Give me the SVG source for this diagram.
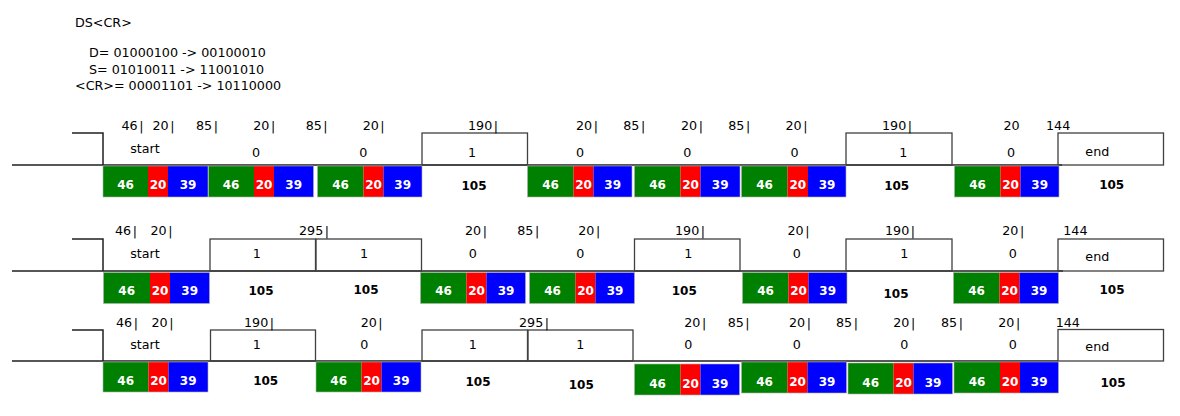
<svg xmlns="http://www.w3.org/2000/svg" width="1180" height="416" viewBox="0 0 1180 416">
<style>
text{font-family:"DejaVu Sans",Verdana,sans-serif}
.t{font-size:12.7px;fill:#000}
.m{font-size:12.7px;fill:#000;text-anchor:middle}
.w{font-size:12px;font-weight:bold;fill:#fff;text-anchor:middle}
.k{font-size:12px;font-weight:bold;fill:#000;text-anchor:middle}
.g{fill:#008000}.r{fill:#ff0000}.b{fill:#0000ff}
.o{fill:none;stroke:#b0b0b0;stroke-width:0.6}
.box{fill:none;stroke:#404040;stroke-width:1.3}
.wave{fill:none;stroke:#202020;stroke-width:1.5}
</style>
<rect width="1180" height="416" fill="#fff"/>
<g id="header">
<text class="t" x="75" y="27">DS&lt;CR&gt;</text>
<text class="t" x="89" y="57">D= 01000100 -&gt; 00100010</text>
<text class="t" x="89" y="73.5">S= 01010011 -&gt; 11001010</text>
<text class="t" x="75" y="90">&lt;CR&gt;= 00001101 -&gt; 10110000</text>
</g>
<g id="connectors">
<path class="wave" d="M12,165H1062M72,133H103V165"/>
<rect class="box" x="422" y="133" width="105.5" height="32"/>
<rect class="box" x="846" y="133" width="106" height="32"/>
<rect class="box" x="1058" y="133" width="105.5" height="32"/>
<path class="wave" d="M12,271H1063M72,239H103V271"/>
<rect class="box" x="210" y="239" width="105.5" height="32"/>
<rect class="box" x="316" y="239" width="105.5" height="32"/>
<rect class="box" x="634.5" y="239" width="105.5" height="32"/>
<rect class="box" x="846" y="239" width="106" height="32"/>
<rect class="box" x="1058" y="239" width="105.5" height="32"/>
<path class="wave" d="M12,361H1058M72,330H103V361"/>
<rect class="box" x="210.5" y="330" width="105" height="31"/>
<rect class="box" x="422" y="330" width="105.5" height="31"/>
<rect class="box" x="528" y="330" width="105" height="31"/>
<rect class="box" x="1058" y="329.5" width="105.5" height="31.5"/>
</g>
<g id="row1-labels">
<text class="t" y="130"><tspan x="121.5">46<tspan dx="1.5">|</tspan></tspan><tspan x="152.5">20<tspan dx="1.5">|</tspan></tspan><tspan x="196">85<tspan dx="1.5">|</tspan></tspan><tspan x="253.3">20<tspan dx="1.5">|</tspan></tspan><tspan x="305.7">85<tspan dx="1.5">|</tspan></tspan><tspan x="362.7">20<tspan dx="1.5">|</tspan></tspan><tspan x="468">190<tspan dx="1.5">|</tspan></tspan><tspan x="576">20<tspan dx="1.5">|</tspan></tspan><tspan x="623.3">85<tspan dx="1.5">|</tspan></tspan><tspan x="681">20<tspan dx="1.5">|</tspan></tspan><tspan x="728.3">85<tspan dx="1.5">|</tspan></tspan><tspan x="785.5">20<tspan dx="1.5">|</tspan></tspan><tspan x="882">190<tspan dx="1.5">|</tspan></tspan><tspan x="1003.5">20</tspan><tspan x="1046">144</tspan></text>
</g>
<g id="row1-cell1"><text class="m" x="145" y="153">start</text>
<rect class="g" x="103" y="166" width="45" height="31"/><rect class="r" x="148" y="166" width="20" height="31"/><rect class="b" x="168" y="166" width="40" height="31"/><rect class="o" x="103" y="166" width="105" height="31"/>
<text class="w" x="125.5" y="189">46</text><text class="w" x="158" y="189">20</text><text class="w" x="188" y="189">39</text></g>
<g id="row1-cell2"><text class="m" x="256" y="156.5">0</text>
<rect class="g" x="208.5" y="166" width="45.5" height="31"/><rect class="r" x="254" y="166" width="20" height="31"/><rect class="b" x="274" y="166" width="39.5" height="31"/><rect class="o" x="208.5" y="166" width="105" height="31"/>
<text class="w" x="231" y="189">46</text><text class="w" x="264" y="189">20</text><text class="w" x="293.7" y="189">39</text></g>
<g id="row1-cell3"><text class="m" x="363.3" y="156.5">0</text>
<rect class="g" x="317.5" y="166" width="46" height="31"/><rect class="r" x="363.5" y="166" width="20" height="31"/><rect class="b" x="383.5" y="166" width="38.5" height="31"/><rect class="o" x="317.5" y="166" width="104.5" height="31"/>
<text class="w" x="340.5" y="189">46</text><text class="w" x="373.5" y="189">20</text><text class="w" x="402.7" y="189">39</text></g>
<g id="row1-cell4"><text class="m" x="472" y="156.5">1</text><text class="k" x="474" y="189.5">105</text></g>
<g id="row1-cell5"><text class="m" x="580" y="156.5">0</text>
<rect class="g" x="527.5" y="166" width="46" height="31"/><rect class="r" x="573.5" y="166" width="20" height="31"/><rect class="b" x="593.5" y="166" width="38.5" height="31"/><rect class="o" x="527.5" y="166" width="104.5" height="31"/>
<text class="w" x="550.5" y="189">46</text><text class="w" x="583.5" y="189">20</text><text class="w" x="612.7" y="189">39</text></g>
<g id="row1-cell6"><text class="m" x="687.3" y="156.5">0</text>
<rect class="g" x="634.5" y="166" width="46" height="31"/><rect class="r" x="680.5" y="166" width="20" height="31"/><rect class="b" x="700.5" y="166" width="39.5" height="31"/><rect class="o" x="634.5" y="166" width="105.5" height="31"/>
<text class="w" x="657.5" y="189">46</text><text class="w" x="690.5" y="189">20</text><text class="w" x="720.2" y="189">39</text></g>
<g id="row1-cell7"><text class="m" x="794.5" y="156.5">0</text>
<rect class="g" x="741.5" y="166" width="46" height="31"/><rect class="r" x="787.5" y="166" width="20.5" height="31"/><rect class="b" x="808" y="166" width="38" height="31"/><rect class="o" x="741.5" y="166" width="104.5" height="31"/>
<text class="w" x="764.5" y="189">46</text><text class="w" x="797.8" y="189">20</text><text class="w" x="827" y="189">39</text></g>
<g id="row1-cell8"><text class="m" x="903.3" y="156.5">1</text><text class="k" x="896.7" y="189.5">105</text></g>
<g id="row1-cell9"><text class="m" x="1011" y="156.5">0</text>
<rect class="g" x="954.5" y="166" width="46" height="31"/><rect class="r" x="1000.5" y="166" width="20" height="31"/><rect class="b" x="1020.5" y="166" width="38.5" height="31"/><rect class="o" x="954.5" y="166" width="104.5" height="31"/>
<text class="w" x="977.5" y="189">46</text><text class="w" x="1010.5" y="189">20</text><text class="w" x="1039.7" y="189">39</text></g>
<g id="row1-end"><text class="m" x="1097.3" y="155.5">end</text><text class="k" x="1111.7" y="189">105</text></g>

<g id="row2-labels">
<text class="t" y="235"><tspan x="115">46<tspan dx="1.5">|</tspan></tspan><tspan x="150.5">20<tspan dx="1.5">|</tspan></tspan><tspan x="299">295<tspan dx="1.5">|</tspan></tspan><tspan x="465">20<tspan dx="1.5">|</tspan></tspan><tspan x="517.3">85<tspan dx="1.5">|</tspan></tspan><tspan x="578.3">20<tspan dx="1.5">|</tspan></tspan><tspan x="675">190<tspan dx="1.5">|</tspan></tspan><tspan x="787.5">20<tspan dx="1.5">|</tspan></tspan><tspan x="885">190<tspan dx="1.5">|</tspan></tspan><tspan x="1002.3">20<tspan dx="1.5">|</tspan></tspan><tspan x="1063.3">144</tspan></text>
</g>
<g id="row2-cell1"><text class="m" x="145" y="258">start</text>
<rect class="g" x="103.5" y="272.5" width="46.5" height="31"/><rect class="r" x="150" y="272.5" width="20" height="31"/><rect class="b" x="170" y="272.5" width="39.5" height="31"/><rect class="o" x="103.5" y="272.5" width="106" height="31"/>
<text class="w" x="126.7" y="294.5">46</text><text class="w" x="160" y="294.5">20</text><text class="w" x="189.7" y="294.5">39</text></g>
<g id="row2-cell2"><text class="m" x="256.7" y="258">1</text><text class="k" x="261" y="295">105</text></g>
<g id="row2-cell3"><text class="m" x="364" y="258">1</text><text class="k" x="366" y="293.5">105</text></g>
<g id="row2-cell4"><text class="m" x="472.7" y="258">0</text>
<rect class="g" x="420.5" y="272.5" width="46" height="31"/><rect class="r" x="466.5" y="272.5" width="20" height="31"/><rect class="b" x="486.5" y="272.5" width="39" height="31"/><rect class="o" x="420.5" y="272.5" width="105" height="31"/>
<text class="w" x="443.5" y="294.5">46</text><text class="w" x="476.5" y="294.5">20</text><text class="w" x="506" y="294.5">39</text></g>
<g id="row2-cell5"><text class="m" x="580.3" y="258">0</text>
<rect class="g" x="529.5" y="272.5" width="46" height="31"/><rect class="r" x="575.5" y="272.5" width="20" height="31"/><rect class="b" x="595.5" y="272.5" width="39" height="31"/><rect class="o" x="529.5" y="272.5" width="105" height="31"/>
<text class="w" x="552.5" y="294.5">46</text><text class="w" x="585.5" y="294.5">20</text><text class="w" x="615" y="294.5">39</text></g>
<g id="row2-cell6"><text class="m" x="688.3" y="258">1</text><text class="k" x="684.3" y="295">105</text></g>
<g id="row2-cell7"><text class="m" x="796.7" y="258">0</text>
<rect class="g" x="742.5" y="272.5" width="46" height="31"/><rect class="r" x="788.5" y="272.5" width="20" height="31"/><rect class="b" x="808.5" y="272.5" width="38.5" height="31"/><rect class="o" x="742.5" y="272.5" width="104.5" height="31"/>
<text class="w" x="765.5" y="294.5">46</text><text class="w" x="798.5" y="294.5">20</text><text class="w" x="827.7" y="294.5">39</text></g>
<g id="row2-cell8"><text class="m" x="904.3" y="258">1</text><text class="k" x="896" y="298">105</text></g>
<g id="row2-cell9"><text class="m" x="1012.7" y="258">0</text>
<rect class="g" x="953.5" y="272.5" width="46" height="31"/><rect class="r" x="999.5" y="272.5" width="20" height="31"/><rect class="b" x="1019.5" y="272.5" width="39" height="31"/><rect class="o" x="953.5" y="272.5" width="105" height="31"/>
<text class="w" x="976.5" y="294.5">46</text><text class="w" x="1009.5" y="294.5">20</text><text class="w" x="1039" y="294.5">39</text></g>
<g id="row2-end"><text class="m" x="1097.3" y="261">end</text><text class="k" x="1112" y="293.5">105</text></g>

<g id="row3-labels">
<text class="t" y="327"><tspan x="116">46<tspan dx="1.5">|</tspan></tspan><tspan x="151.5">20<tspan dx="1.5">|</tspan></tspan><tspan x="244">190<tspan dx="1.5">|</tspan></tspan><tspan x="360.7">20<tspan dx="1.5">|</tspan></tspan><tspan x="519">295<tspan dx="1.5">|</tspan></tspan><tspan x="684.3">20<tspan dx="1.5">|</tspan></tspan><tspan x="727.7">85<tspan dx="1.5">|</tspan></tspan><tspan x="789">20<tspan dx="1.5">|</tspan></tspan><tspan x="836">85<tspan dx="1.5">|</tspan></tspan><tspan x="893.3">20<tspan dx="1.5">|</tspan></tspan><tspan x="941">85<tspan dx="1.5">|</tspan></tspan><tspan x="998.3">20<tspan dx="1.5">|</tspan></tspan><tspan x="1055.7">144</tspan></text>
</g>
<g id="row3-cell1"><text class="m" x="145" y="349">start</text>
<rect class="g" x="103" y="362" width="45.5" height="30"/><rect class="r" x="148.5" y="362" width="20" height="30"/><rect class="b" x="168.5" y="362" width="39.5" height="30"/><rect class="o" x="103" y="362" width="105" height="30"/>
<text class="w" x="125.7" y="385">46</text><text class="w" x="158.5" y="385">20</text><text class="w" x="188.2" y="385">39</text></g>
<g id="row3-cell2"><text class="m" x="256.7" y="349">1</text><text class="k" x="265.7" y="385">105</text></g>
<g id="row3-cell3"><text class="m" x="364.3" y="349">0</text>
<rect class="g" x="316" y="362" width="45.5" height="30"/><rect class="r" x="361.5" y="362" width="20" height="30"/><rect class="b" x="381.5" y="362" width="39.5" height="30"/><rect class="o" x="316" y="362" width="105" height="30"/>
<text class="w" x="338.7" y="385">46</text><text class="w" x="371.5" y="385">20</text><text class="w" x="401.2" y="385">39</text></g>
<g id="row3-cell4"><text class="m" x="472.7" y="349">1</text><text class="k" x="478" y="386">105</text></g>
<g id="row3-cell5"><text class="m" x="580.3" y="349">1</text><text class="k" x="581.3" y="389">105</text></g>
<g id="row3-cell6"><text class="m" x="688.3" y="349">0</text>
<rect class="g" x="634.5" y="364" width="46" height="31"/><rect class="r" x="680.5" y="364" width="20" height="31"/><rect class="b" x="700.5" y="364" width="39" height="31"/><rect class="o" x="634.5" y="364" width="105" height="31"/>
<text class="w" x="657.5" y="387.5">46</text><text class="w" x="690.5" y="387.5">20</text><text class="w" x="720" y="387.5">39</text></g>
<g id="row3-cell7"><text class="m" x="796.7" y="349">0</text>
<rect class="g" x="741.5" y="362" width="46" height="31"/><rect class="r" x="787.5" y="362" width="20" height="31"/><rect class="b" x="807.5" y="362" width="39" height="31"/><rect class="o" x="741.5" y="362" width="105" height="31"/>
<text class="w" x="764.5" y="385.5">46</text><text class="w" x="797.5" y="385.5">20</text><text class="w" x="827" y="385.5">39</text></g>
<g id="row3-cell8"><text class="m" x="904.3" y="349">0</text>
<rect class="g" x="848" y="363" width="45.5" height="31"/><rect class="r" x="893.5" y="363" width="20" height="31"/><rect class="b" x="913.5" y="363" width="39" height="31"/><rect class="o" x="848" y="363" width="104.5" height="31"/>
<text class="w" x="870.7" y="386.5">46</text><text class="w" x="903.5" y="386.5">20</text><text class="w" x="933" y="386.5">39</text></g>
<g id="row3-cell9"><text class="m" x="1012.7" y="349">0</text>
<rect class="g" x="954" y="362" width="46" height="31"/><rect class="r" x="1000" y="362" width="20" height="31"/><rect class="b" x="1020" y="362" width="38.5" height="31"/><rect class="o" x="954" y="362" width="104.5" height="31"/>
<text class="w" x="977" y="385.5">46</text><text class="w" x="1010" y="385.5">20</text><text class="w" x="1039.2" y="385.5">39</text></g>
<g id="row3-end"><text class="m" x="1097.3" y="351">end</text><text class="k" x="1113" y="386.5">105</text></g>
</svg>
